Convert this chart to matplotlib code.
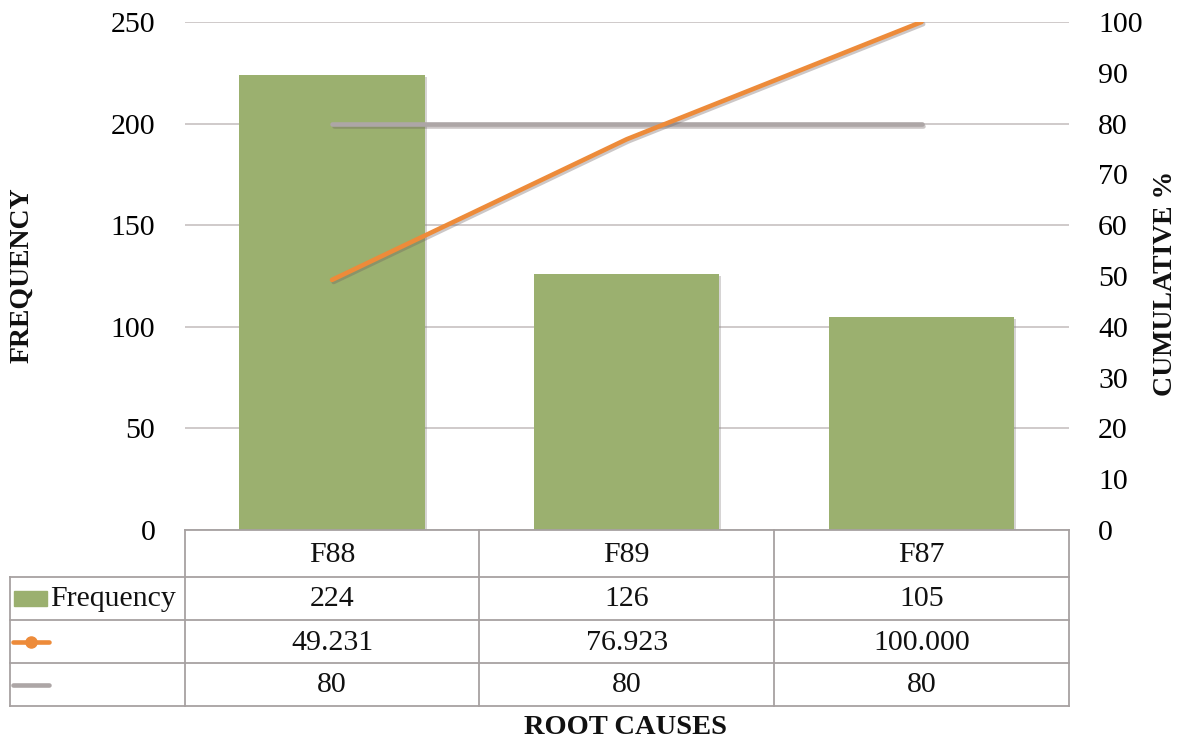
import matplotlib
matplotlib.use("Agg")
import matplotlib.pyplot as plt
import matplotlib.patheffects as pe
from matplotlib.lines import Line2D
from matplotlib.patches import Rectangle

# Pareto data for the root causes
categories = ["F88", "F89", "F87"]
frequency = [224, 126, 105]
cumulative_pct = [49.231, 76.923, 100.000]
threshold = [80, 80, 80]

left_ticks = [0, 50, 100, 150, 200, 250]
right_ticks = [0, 10, 20, 30, 40, 50, 60, 70, 80, 90, 100]

BAR_GREEN = "#9BB06F"
ORANGE = "#ED8B3A"
GREY_LINE = "#ADA6A6"
GRID = "#CBC6C6"
BORDER = "#A7A1A1"
FONT = "Liberation Serif"
FS = 21.5

plt.rcParams["font.family"] = FONT

W, H = 1183, 744
fig = plt.figure(figsize=(W / 100, H / 100), dpi=100)

ax_l, ax_r, ax_t, ax_b = 184.6, 1068.9, 22, 530
ax = fig.add_axes([ax_l / W, 1 - ax_b / H, (ax_r - ax_l) / W, (ax_b - ax_t) / H])
ax2 = ax.twinx()

x = list(range(len(categories)))
shadow = [pe.SimplePatchShadow(offset=(1.5, -1.5), shadow_rgbFace="#8a8484", alpha=0.35), pe.Normal()]
ax.bar(x, frequency, width=0.628, color=BAR_GREEN, zorder=2, path_effects=shadow)

ax.set_xlim(-0.5, len(categories) - 0.5)
ax.set_ylim(0, 250)
ax.set_yticks(left_ticks)
ax.set_yticklabels([str(t) for t in left_ticks], fontsize=FS)
ax.set_xticks([])
ax.yaxis.grid(True, color=GRID, linewidth=1.3, zorder=0)
ax.set_axisbelow(True)
ax.tick_params(axis="y", length=0, pad=21)
for s in ax.spines.values():
    s.set_visible(False)

line_shadow = [pe.SimpleLineShadow(offset=(1.2, -1.5), shadow_color="#6d6060", alpha=0.35), pe.Normal()]
ax2.plot(x, threshold, color=GREY_LINE, linewidth=3.3, solid_capstyle="round", zorder=3,
         path_effects=line_shadow)
ax2.plot(x, cumulative_pct, color=ORANGE, linewidth=3.3, solid_capstyle="round", zorder=4,
         path_effects=line_shadow)
ax2.set_ylim(0, 100)
ax2.set_yticks(right_ticks)
ax2.set_yticklabels([str(t) for t in right_ticks], fontsize=FS)
ax2.tick_params(axis="y", length=0, pad=21)
for s in ax2.spines.values():
    s.set_visible(False)

# Data table beneath the plot, laid out in pixel coordinates
def fx(px):
    return px / W

def fy(py):
    return 1 - py / H

col_edges = [ax_l, ax_l + (ax_r - ax_l) / 3, ax_l + 2 * (ax_r - ax_l) / 3, ax_r]
row_edges = [530, 577, 620, 663, 706]
table_left = 10

def hline(y, x0, x1):
    fig.add_artist(Line2D([fx(x0), fx(x1)], [fy(y), fy(y)], color=BORDER, linewidth=1.3))

def vline(xp, y0, y1):
    fig.add_artist(Line2D([fx(xp), fx(xp)], [fy(y0), fy(y1)], color=BORDER, linewidth=1.3))

hline(row_edges[0], col_edges[0], col_edges[-1])
for y in row_edges[1:]:
    hline(y, table_left, col_edges[-1])
for xp in col_edges:
    vline(xp, row_edges[0], row_edges[-1])
vline(table_left, row_edges[1], row_edges[-1])

rows = [
    categories,
    [str(v) for v in frequency],
    [f"{v:.3f}" for v in cumulative_pct],
    [str(v) for v in threshold],
]
for r, vals in enumerate(rows):
    yc = (row_edges[r] + row_edges[r + 1]) / 2 + 1
    for c, txt in enumerate(vals):
        xc = (col_edges[c] + col_edges[c + 1]) / 2
        fig.text(fx(xc), fy(yc), txt, ha="center", va="center", fontsize=FS, color="#111111")

# Legend keys in the row headers
y_freq = (row_edges[1] + row_edges[2]) / 2
fig.add_artist(Rectangle((fx(14), fy(y_freq + 7)), fx(47) - fx(14), (15 / H),
                         color=BAR_GREEN, transform=fig.transFigure))
fig.text(fx(50), fy(y_freq + 1), "Frequency", ha="left", va="center", fontsize=FS, color="#111111")

y_cum = (row_edges[2] + row_edges[3]) / 2
fig.add_artist(Line2D([fx(13), fx(49)], [fy(y_cum), fy(y_cum)], color=ORANGE, linewidth=3.3,
                      solid_capstyle="round"))
fig.add_artist(Line2D([fx(31)], [fy(y_cum)], color=ORANGE, marker="o", markersize=8, linestyle="none"))

y_thr = (row_edges[3] + row_edges[4]) / 2
fig.add_artist(Line2D([fx(13), fx(49)], [fy(y_thr), fy(y_thr)], color=GREY_LINE, linewidth=3.3,
                      solid_capstyle="round"))

# Axis titles
fig.text(fx(22), fy(275), "FREQUENCY", rotation=90, ha="center", va="center",
         fontsize=20, fontweight="bold", color="#111111")
fig.text(fx(1165), fy(283), "CUMULATIVE %", rotation=90, ha="center", va="center",
         fontsize=20, fontweight="bold", color="#111111")
fig.text(fx(626), fy(728), "ROOT CAUSES", ha="center", va="center",
         fontsize=20.5, fontweight="bold", color="#111111")

fig.savefig("out.png", dpi=100, facecolor="white")
